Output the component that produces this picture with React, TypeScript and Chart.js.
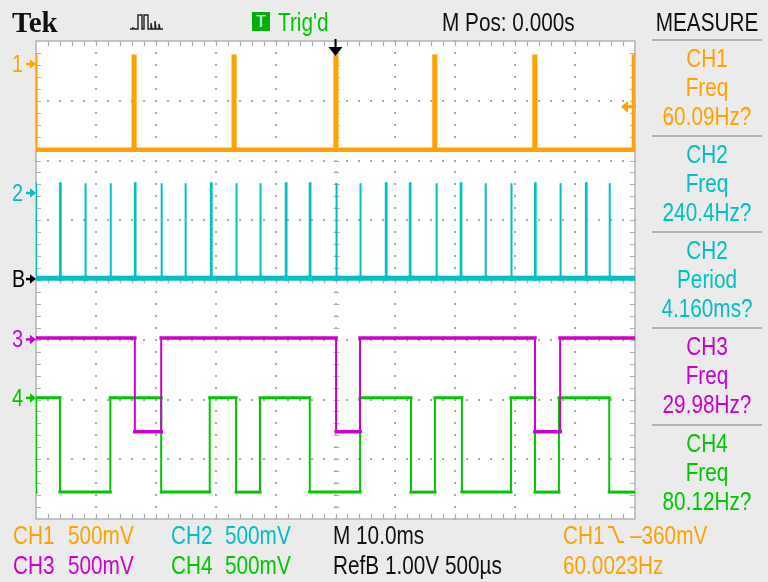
import React, { useEffect, useRef } from 'react';
import { Chart, registerables } from 'chart.js';

Chart.register(...registerables);

// ---------- colours ----------
const ORANGE = '#ffa200';
const CYAN = '#00c0c4';
const MAGENTA = '#cc00cc';
const GREEN = '#00c800';
const BG = '#ebebeb';

// ---------- axes: time in ms (10 ms/div, 10 div), vertical in divisions (8 div) ----------
const TIME_MIN = 0;
const TIME_MAX = 100;
const DIV_MIN = 0;
const DIV_MAX = 8;

// ---------- CH1 (orange): narrow positive pulses ----------
const CH1_BASE = 6.18;
const CH1_PEAK = 7.75;
const ch1PulseTimes = [16.2, 32.9, 49.9, 66.4, 83.1, 99.7];
const CH1_PULSE_WIDTH = 0.35;

// ---------- CH2 (cyan): spikes ----------
const CH2_BASE = 4.03;
const CH2_PEAK = 5.62;
const ch2SpikeTimes = [4.0, 8.2, 12.4, 16.5, 20.9, 24.9, 29.2, 33.4, 37.4, 41.7, 45.7, 50.1, 54.1, 58.4, 62.4, 66.8, 70.9, 75.0, 79.3, 83.3, 87.5, 91.8, 95.7];
const CH2_SPIKE_WIDTH = 0.12;

// ---------- CH3 (magenta): square wave, starts high ----------
const CH3_HIGH = 3.03;
const CH3_LOW = 1.46;
const ch3EdgeTimes = [16.5, 20.9, 50.1, 54.1, 83.3, 87.5];

// ---------- CH4 (green): square wave, starts low, rises at 0 ----------
const CH4_HIGH = 2.03;
const CH4_LOW = 0.45;
const ch4EdgeTimes = [0, 4.0, 12.4, 20.9, 29.0, 33.4, 37.4, 45.7, 54.1, 62.6, 66.6, 71.1, 79.3, 83.3, 87.3, 95.7];

// ---------- markers ----------
const markerLabels = ['1', '2', 'B', '3', '4'];
const markerLevels = [7.62, 5.46, 4.02, 3.01, 2.03];
const markerColors = [ORANGE, CYAN, '#000000', MAGENTA, GREEN];
const TRIGGER_TIME = 50;
const TRIGGER_LEVEL = 6.9;

// ---------- readouts ----------
const measureTitles = ['CH1', 'CH2', 'CH2', 'CH3', 'CH4'];
const measureKinds = ['Freq', 'Freq', 'Period', 'Freq', 'Freq'];
const measureValues = ['60.09Hz?', '240.4Hz?', '4.160ms?', '29.98Hz?', '80.12Hz?'];
const measureColors = [ORANGE, CYAN, CYAN, MAGENTA, GREEN];

type P = { x: number; y: number };

function pulseTrain(times: number[], base: number, peak: number, width: number): P[] {
  const pts: P[] = [{ x: TIME_MIN, y: peak }, { x: TIME_MIN, y: base }];
  times.forEach((t) => {
    pts.push({ x: t, y: base }, { x: t, y: peak }, { x: t + width, y: peak }, { x: t + width, y: base });
  });
  const last = pts[pts.length - 1];
  if (last.x < TIME_MAX) pts.push({ x: TIME_MAX, y: base });
  return pts;
}

function squareWave(edges: number[], hi: number, lo: number, startHigh: boolean): P[] {
  let cur = startHigh ? hi : lo;
  const pts: P[] = [{ x: TIME_MIN, y: cur }];
  edges.forEach((e) => {
    pts.push({ x: e, y: cur });
    cur = cur === hi ? lo : hi;
    pts.push({ x: e, y: cur });
  });
  pts.push({ x: TIME_MAX, y: cur });
  return pts;
}

function trace(label: string, data: P[], color: string, thick: number, thin: number, thickLevels: number[]) {
  return {
    label,
    data,
    borderColor: color,
    borderWidth: thick,
    pointRadius: 0,
    tension: 0,
    fill: false,
    borderJoinStyle: 'miter' as const,
    borderCapStyle: 'square' as const,
    segment: {
      borderWidth: (c: any) => {
        const horizontal = Math.abs(c.p0.parsed.y - c.p1.parsed.y) < 1e-9;
        return horizontal && thickLevels.includes(c.p0.parsed.y) ? thick : thin;
      },
    },
  };
}

const PLOT_LEFT = 36;
const PLOT_TOP = 41;
const PLOT_RIGHT = 635;
const PLOT_BOTTOM = 519;
const DIV_PX = (PLOT_BOTTOM - PLOT_TOP) / (DIV_MAX - DIV_MIN);

const bgPlugin = {
  id: 'bgPlugin',
  beforeDraw(chart: any) {
    const { ctx, chartArea: a } = chart;
    ctx.save();
    ctx.fillStyle = '#ffffff';
    ctx.fillRect(a.left, a.top, a.right - a.left, a.bottom - a.top);
    ctx.restore();
  },
};

const gridPlugin = {
  id: 'gridPlugin',
  beforeDatasetsDraw(chart: any) {
    const { ctx, chartArea: a } = chart;
    const xs = chart.scales.x;
    const ys = chart.scales.y;
    ctx.save();
    ctx.fillStyle = '#a9a9a9';
    for (let d = 1; d < 10; d++) {
      const px = Math.round(xs.getPixelForValue(d * 10));
      for (let k = 0; k <= 40; k++) {
        const py = Math.round(ys.getPixelForValue(k * 0.2));
        ctx.fillRect(px - 1, py - 1, 2, 2);
      }
    }
    for (let d = 1; d < 8; d++) {
      const py = Math.round(ys.getPixelForValue(d));
      for (let k = 0; k <= 50; k++) {
        const px = Math.round(xs.getPixelForValue(k * 2));
        ctx.fillRect(px - 1, py - 1, 2, 2);
      }
    }
    ctx.strokeStyle = '#b4b4b4';
    ctx.lineWidth = 1.5;
    ctx.strokeRect(a.left, a.top, a.right - a.left, a.bottom - a.top);
    ctx.strokeStyle = '#b0b0b0';
    ctx.lineWidth = 1.2;
    ctx.beginPath();
    const cx = Math.round(xs.getPixelForValue(50)) + 0.5;
    const cy = Math.round(ys.getPixelForValue(4)) + 0.5;
    for (let k = 1; k < 50; k++) {
      const px = Math.round(xs.getPixelForValue(k * 2)) + 0.5;
      ctx.moveTo(px, a.top); ctx.lineTo(px, a.top + 5);
      ctx.moveTo(px, a.bottom); ctx.lineTo(px, a.bottom - 5);
      ctx.moveTo(px, cy - 3); ctx.lineTo(px, cy + 3);
    }
    for (let k = 1; k < 40; k++) {
      const py = Math.round(ys.getPixelForValue(k * 0.2)) + 0.5;
      ctx.moveTo(a.left, py); ctx.lineTo(a.left + 5, py);
      ctx.moveTo(a.right, py); ctx.lineTo(a.right - 5, py);
      ctx.moveTo(cx - 3, py); ctx.lineTo(cx + 3, py);
    }
    ctx.stroke();
    ctx.restore();
  },
};

const markerPlugin = {
  id: 'markerPlugin',
  afterDatasetsDraw(chart: any) {
    const { ctx, chartArea: a } = chart;
    const xs = chart.scales.x;
    const ys = chart.scales.y;
    ctx.save();
    const tx = xs.getPixelForValue(TRIGGER_TIME);
    ctx.fillStyle = '#000';
    ctx.fillRect(tx - 1, a.top - 2, 2, 9);
    ctx.beginPath();
    ctx.moveTo(tx - 7, a.top + 6);
    ctx.lineTo(tx + 7, a.top + 6);
    ctx.lineTo(tx, a.top + 15);
    ctx.closePath();
    ctx.fill();
    const ty = ys.getPixelForValue(TRIGGER_LEVEL);
    ctx.fillStyle = ORANGE;
    ctx.beginPath();
    ctx.moveTo(a.right - 14, ty);
    ctx.lineTo(a.right - 7, ty - 6);
    ctx.lineTo(a.right - 7, ty + 6);
    ctx.closePath();
    ctx.fill();
    ctx.fillRect(a.right - 8, ty - 1.5, 9, 3);
    markerLevels.forEach((lv, i) => {
      const y = ys.getPixelForValue(lv);
      ctx.fillStyle = markerColors[i];
      ctx.fillRect(a.left - 10, y - 1, 5, 2.5);
      ctx.beginPath();
      ctx.moveTo(a.left - 6, y - 4.5);
      ctx.lineTo(a.left - 6, y + 5);
      ctx.lineTo(a.left, y + 0.25);
      ctx.closePath();
      ctx.fill();
    });
    ctx.restore();
  },
};

const FONT = '"Liberation Sans", Arial, sans-serif';

function Txt(props: { x: number; y: number; color: string; children: any; center?: boolean; size?: number; sx?: number }) {
  const size = props.size ?? 25;
  const sx = props.sx ?? 0.83;
  const style: React.CSSProperties = {
    position: 'absolute',
    left: props.x,
    top: props.y - size * 0.49,
    fontFamily: FONT,
    fontSize: size,
    lineHeight: `${size}px`,
    color: props.color,
    whiteSpace: 'pre',
    transform: props.center ? `translateX(-50%) scaleX(${sx})` : `scaleX(${sx})`,
    transformOrigin: props.center ? 'center' : 'left',
  };
  return <div style={style}>{props.children}</div>;
}

export default function App() {
  const ref = useRef<HTMLCanvasElement | null>(null);

  useEffect(() => {
    if (!ref.current) return;
    const chart = new Chart(ref.current, {
      type: 'line',
      data: {
        datasets: [
          trace('CH1', pulseTrain(ch1PulseTimes, CH1_BASE, CH1_PEAK, CH1_PULSE_WIDTH), ORANGE, 4.5, 3, [CH1_BASE]) as any,
          trace('CH2', pulseTrain(ch2SpikeTimes, CH2_BASE, CH2_PEAK, CH2_SPIKE_WIDTH), CYAN, 5, 2, [CH2_BASE]) as any,
          trace('CH3', squareWave(ch3EdgeTimes, CH3_HIGH, CH3_LOW, true), MAGENTA, 3.5, 2, [CH3_HIGH, CH3_LOW]) as any,
          trace('CH4', squareWave(ch4EdgeTimes, CH4_HIGH, CH4_LOW, false), GREEN, 3, 2, [CH4_HIGH, CH4_LOW]) as any,
        ],
      },
      options: {
        responsive: false,
        animation: false,
        events: [],
        layout: { padding: { left: PLOT_LEFT, top: PLOT_TOP, right: 768 - PLOT_RIGHT, bottom: 582 - PLOT_BOTTOM } },
        scales: {
          x: { type: 'linear', min: TIME_MIN, max: TIME_MAX, display: false },
          y: { type: 'linear', min: DIV_MIN, max: DIV_MAX, display: false },
        },
        plugins: { legend: { display: false }, tooltip: { enabled: false } },
      },
      plugins: [bgPlugin, gridPlugin, markerPlugin],
    });
    return () => chart.destroy();
  }, []);

  const sepY = [40, 136, 232, 328, 425];

  return (
    <div style={{ position: 'fixed', left: 0, top: 0, width: 768, height: 582, background: BG, overflow: 'hidden' }}>
      <canvas ref={ref} width={768} height={582} style={{ position: 'absolute', left: 0, top: 0, width: 768, height: 582 }} />

      {/* header */}
      <div style={{ position: 'absolute', left: 12, top: 6, fontFamily: '"Liberation Serif", serif', fontWeight: 'bold', fontSize: 29, lineHeight: '32px', color: '#111' }}>Tek</div>
      <svg style={{ position: 'absolute', left: 130, top: 10 }} width="38" height="22" viewBox="0 0 38 22">
        <polyline points="0,19 3,19 3,18 5,19 8,19 8,5 12,5 12,19 14,19 14,5 18,5 18,19 21,19 21,13 22,19 25,19 25,11 26,19 29,19 29,14 30,19 33,19" fill="none" stroke="#222" strokeWidth="1.4" />
      </svg>
      <div style={{ position: 'absolute', left: 252, top: 12, width: 18, height: 19, background: '#00b000', color: '#fff', fontFamily: FONT, fontSize: 16, lineHeight: '19px', textAlign: 'center' }}>T</div>
      <Txt x={278} y={22.5} color={GREEN}>Trig'd</Txt>
      <Txt x={442} y={22.5} color="#111">M Pos: 0.000s</Txt>
      <Txt x={707} y={22.5} color="#111" center>MEASURE</Txt>

      {/* ground marker labels */}
      {markerLabels.map((lb, i) => (
        <Txt key={lb} x={12} y={PLOT_BOTTOM - markerLevels[i] * DIV_PX} color={markerColors[i]} size={24}>{lb}</Txt>
      ))}

      {/* measure panel */}
      {sepY.map((s, i) => (
        <React.Fragment key={i}>
          <div style={{ position: 'absolute', left: 652, top: s - 1, width: 110, height: 2, background: '#b4b4b4' }} />
          <Txt x={707} y={s + 18.5} color={measureColors[i]} center>{measureTitles[i]}</Txt>
          <Txt x={707} y={s + 47.5} color={measureColors[i]} center>{measureKinds[i]}</Txt>
          <Txt x={707} y={s + 76.5} color={measureColors[i]} center>{measureValues[i]}</Txt>
        </React.Fragment>
      ))}

      {/* bottom readouts */}
      <Txt x={13} y={535} color={ORANGE}>CH1</Txt>
      <Txt x={68} y={535} color={ORANGE}>500mV</Txt>
      <Txt x={171} y={535} color={CYAN}>CH2</Txt>
      <Txt x={225} y={535} color={CYAN}>500mV</Txt>
      <Txt x={333} y={535} color="#111">M 10.0ms</Txt>
      <Txt x={563} y={535} color={ORANGE}>CH1</Txt>
      <svg style={{ position: 'absolute', left: 607, top: 525 }} width="18" height="20" viewBox="0 0 18 20">
        <polyline points="1,2 6,2 12,17 17,17" fill="none" stroke={ORANGE} strokeWidth="2" />
      </svg>
      <Txt x={630} y={535} color={ORANGE}>–360mV</Txt>

      <Txt x={13} y={565} color={MAGENTA}>CH3</Txt>
      <Txt x={68} y={565} color={MAGENTA}>500mV</Txt>
      <Txt x={171} y={565} color={GREEN}>CH4</Txt>
      <Txt x={225} y={565} color={GREEN}>500mV</Txt>
      <Txt x={333} y={565} color="#111">RefB 1.00V 500µs</Txt>
      <Txt x={563} y={565} color={ORANGE}>60.0023Hz</Txt>
    </div>
  );
}
